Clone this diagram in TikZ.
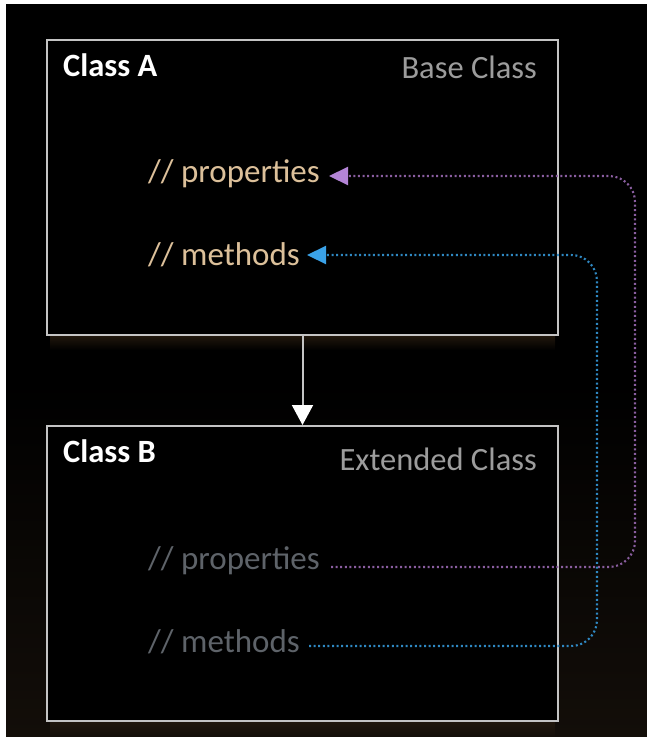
\documentclass[tikz,border=0pt]{standalone}
\usepackage{fontspec}
\setmainfont{Carlito}
\usetikzlibrary{arrows.meta}
\definecolor{bgbot}{HTML}{130E09}
\definecolor{glow}{HTML}{22180D}
\definecolor{boxline}{HTML}{C4C4C4}
\definecolor{titlec}{HTML}{FFFFFF}
\definecolor{subc}{HTML}{9C9C9C}
\definecolor{codeA}{HTML}{DCC09A}
\definecolor{codeB}{HTML}{5E6369}
\definecolor{purpleline}{HTML}{8A5EA0}
\definecolor{purplehead}{HTML}{B384D6}
\definecolor{blueline}{HTML}{2F88C2}
\definecolor{bluehead}{HTML}{3AA2E8}
\tikzset{
  classbox/.style={draw=boxline, line width=2pt, fill=black, minimum width=511pt, minimum height=295pt, inner sep=0pt},
  titletxt/.style={inner sep=0pt, text=titlec, font=\fontsize{32.5}{39}\selectfont\bfseries},
  subtxt/.style={inner sep=0pt, text=subc, font=\fontsize{32.5}{39}\selectfont},
  codetxtA/.style={inner sep=0pt, text=codeA, font=\fontsize{33}{40}\selectfont},
  codetxtB/.style={inner sep=0pt, text=codeB, font=\fontsize{33}{40}\selectfont},
  dotline/.style={line width=2.1pt, dash pattern=on 2pt off 2.6pt, rounded corners=26pt},
}
\begin{document}
\begin{tikzpicture}[x=1pt,y=-1pt]
\useasboundingbox (0,0) rectangle (647,737);
\fill[white] (0,0) rectangle (647,737);
\fill[black] (6,4) rectangle (647,380);
\shade[top color=black, bottom color=bgbot] (6,380) rectangle (647,737);
% glows under boxes
\shade[top color=glow, bottom color=black] (50,335) rectangle (555,350);
\shade[top color=glow, bottom color=bgbot] (50,721) rectangle (555,737);
% boxes
\node[classbox] (A) at (302.5,187.5) {};
\node[classbox] (B) at (302.5,573.5) {};
% titles
\node[titletxt, anchor=base west] (Atitle) at (63,76) {Class A};
\node[subtxt, anchor=base east] (Asub) at (537,78) {Base Class};
\node[titletxt, anchor=base west] (Btitle) at (63,462) {Class B};
\node[subtxt, anchor=base east] (Bsub) at (537,470) {Extended Class};
% code lines
\node[codetxtA, anchor=base west] (Aprop) at (148,182) {// properties};
\node[codetxtA, anchor=base west] (Ameth) at (148,265) {// methods};
\node[codetxtB, anchor=base west] (Bprop) at (148,569) {// properties};
\node[codetxtB, anchor=base west] (Bmeth) at (148,652) {// methods};
% connector endpoints
\coordinate (pA) at (329,176);
\coordinate (mA) at (307,255);
\coordinate (pB) at (331,567);
\coordinate (mB) at (309,646);
\coordinate (pR1) at (635,567);
\coordinate (pR2) at (635,176);
\coordinate (mR1) at (597,646);
\coordinate (mR2) at (597,255);
% inheritance arrow
\draw[line width=2pt, draw=boxline, -{Triangle[length=20pt,width=21pt,fill=white,color=white]}] (A.south) -- (B.north);
% dotted connectors
\draw[dotline, draw=purpleline, -{Triangle[length=19pt,width=18pt,fill=purplehead,color=purplehead]}] (pB) -- (pR1) -- (pR2) -- (pA);
\draw[dotline, draw=blueline, -{Triangle[length=19pt,width=18pt,fill=bluehead,color=bluehead]}] (mB) -- (mR1) -- (mR2) -- (mA);
\end{tikzpicture}
\end{document}
